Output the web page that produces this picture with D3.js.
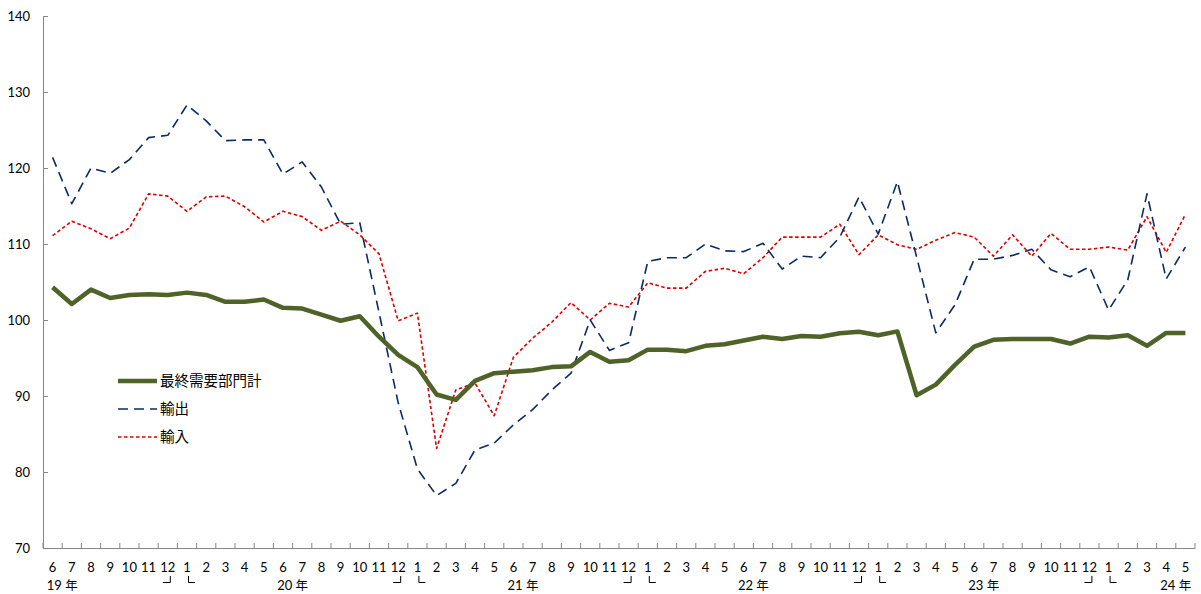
<!DOCTYPE html>
<html><head><meta charset="utf-8">
<script src="https://cdn.jsdelivr.net/npm/d3@7"></script>
<style>body{margin:0;background:#fff}</style>
</head><body>
<svg id="c" width="1201" height="594"></svg>
<script>
const categories = [
 "2019-6","2019-7","2019-8","2019-9","2019-10","2019-11","2019-12",
 "2020-1","2020-2","2020-3","2020-4","2020-5","2020-6","2020-7","2020-8","2020-9","2020-10","2020-11","2020-12",
 "2021-1","2021-2","2021-3","2021-4","2021-5","2021-6","2021-7","2021-8","2021-9","2021-10","2021-11","2021-12",
 "2022-1","2022-2","2022-3","2022-4","2022-5","2022-6","2022-7","2022-8","2022-9","2022-10","2022-11","2022-12",
 "2023-1","2023-2","2023-3","2023-4","2023-5","2023-6","2023-7","2023-8","2023-9","2023-10","2023-11","2023-12",
 "2024-1","2024-2","2024-3","2024-4","2024-5"];
const finalDemand = [104.3,102.1,104.0,102.9,103.3,103.4,103.3,103.6,103.3,102.4,
 102.4,102.7,101.6,101.5,100.7,99.9,100.5,97.8,95.4,93.8,
 90.2,89.5,92.0,93.0,93.2,93.4,93.8,93.9,95.8,94.5,
 94.7,96.1,96.1,95.9,96.6,96.8,97.3,97.8,97.5,97.9,
 97.8,98.25,98.45,98.0,98.5,90.1,91.5,94.1,96.5,97.4,
 97.5,97.5,97.5,96.9,97.8,97.7,98.0,96.6,98.3,98.3];
const exportsIdx = [121.4,115.3,120.0,119.3,121.1,124.0,124.3,128.3,126.2,123.6,
 123.7,123.7,119.2,120.8,117.5,112.6,112.8,101.0,89.1,80.4,
 76.9,78.5,82.9,83.8,86.2,88.2,90.8,93.0,100.0,96.0,
 97.0,107.7,108.2,108.2,110.0,109.1,109.0,110.1,106.7,108.4,
 108.2,110.9,116.2,111.3,118.2,108.3,98.3,102.0,108.0,108.0,
 108.5,109.3,106.6,105.7,107.0,101.3,105.3,116.6,105.4,109.6];
const importsIdx = [111.1,113.0,112.0,110.7,112.1,116.6,116.3,114.3,116.2,116.3,
 114.9,112.9,114.3,113.6,111.8,113.0,111.2,108.7,99.9,100.9,
 83.1,90.8,91.7,87.4,95.1,97.6,99.7,102.3,100.0,102.2,
 101.7,104.9,104.2,104.2,106.4,106.8,106.1,108.2,110.9,110.9,
 110.9,112.6,108.6,111.2,109.9,109.3,110.5,111.5,110.9,108.4,
 111.2,108.4,111.4,109.3,109.3,109.6,109.2,113.6,108.9,113.9];
const yTicks = [70,80,90,100,110,120,130,140];
const seriesNames = ["最終需要部門計","輸出","輸入"];
const yearLabels = ["19","20","21","22","23","24"];

const svg = d3.select("#c");
const L = 43, R = 1195, T = 16, B = 548;
const x = d3.scaleBand().domain(categories).range([L, R]).padding(0);
const y = d3.scaleLinear().domain([70, 140]).range([B, T]);
const cx = c => x(c) + x.bandwidth() / 2;
const axisCol = "#868686";
const numFont = "Lato, 'Noto Sans', sans-serif";
const cjkFont = "'Noto Sans CJK JP', sans-serif";

// Y axis
const ya = svg.append("g").attr("transform", `translate(${L},0)`)
  .call(d3.axisLeft(y).tickValues(yTicks).tickSize(-5).tickPadding(13));
ya.select(".domain").attr("stroke", axisCol);
ya.selectAll(".tick line").attr("stroke", axisCol);
ya.selectAll(".tick text").attr("font-family", numFont).attr("font-size", 13).attr("fill", "#000");

// X axis
const xa = svg.append("g").attr("transform", `translate(0,${B})`)
  .call(d3.axisBottom(x).tickSize(0).tickFormat(() => ""));
xa.select(".domain").attr("stroke", axisCol);
xa.selectAll(".tick").remove();
const bounds = categories.map(c => x(c)).concat([R]);
xa.selectAll("line.bt").data(bounds).join("line").attr("class", "bt")
  .attr("x1", d => d).attr("x2", d => d).attr("y1", 0).attr("y2", -5)
  .attr("stroke", axisCol);
svg.append("g").selectAll("text").data(categories).join("text")
  .attr("x", cx).attr("y", 571.5).attr("text-anchor", "middle")
  .attr("font-family", numFont).attr("font-size", 13).attr("fill", "#000")
  .text(c => c.split("-")[1]);

// year labels
yearLabels.forEach(yr => {
  const full = "20" + yr;
  const cats = categories.filter(c => c.startsWith(full + "-"));
  let a = cats.indexOf(full + "-6"), b;
  if (a >= 0 && a + 1 < cats.length) { b = a + 1; } else { a = cats.length - 2; b = cats.length - 1; }
  const px = (cx(cats[a]) + cx(cats[b])) / 2;
  const t = svg.append("text").attr("x", px).attr("y", 590).attr("text-anchor", "middle").attr("fill", "#000");
  t.append("tspan").attr("font-family", numFont).attr("font-size", 13).text(yr + " ");
  t.append("tspan").attr("font-family", cjkFont).attr("font-size", 12.5).text("年");
});

// year separators
const sep = svg.append("g").attr("stroke", "#000").attr("stroke-width", 1).attr("fill", "none");
categories.forEach((c, i) => {
  const m = c.split("-")[1];
  if (m === "12" && i < categories.length - 1) {
    const p = cx(c);
    sep.append("path").attr("d", `M${p - 5},582.5H${p + 2.5}V576`);
  }
  if (m === "1" && i > 0) {
    const p = cx(c);
    sep.append("path").attr("d", `M${p + 1.5},576V582.5H${p + 8}`);
  }
});

// lines
const line = d3.line().x((d, i) => cx(categories[i])).y(d => y(d));
const styles = [
  {data: finalDemand, color: "#4f6228", w: 4.5, dash: null},
  {data: exportsIdx, color: "#0c2a66", w: 1.6, dash: "10,6"},
  {data: importsIdx, color: "#dd0000", w: 1.6, dash: "3.5,2.5"}
];
const order = [2, 1, 0];
order.forEach(k => {
  const s = styles[k];
  svg.append("path").datum(s.data).attr("d", line).attr("fill", "none")
    .attr("stroke", s.color).attr("stroke-width", s.w).attr("stroke-linejoin", "round")
    .attr("stroke-dasharray", s.dash);
});

// legend
const ly = [381, 409, 437];
seriesNames.forEach((n, k) => {
  const s = styles[k];
  svg.append("line").attr("x1", 118).attr("x2", 157).attr("y1", ly[k]).attr("y2", ly[k])
    .attr("stroke", s.color).attr("stroke-width", s.w).attr("stroke-dasharray", s.dash);
  svg.append("text").attr("x", 160).attr("y", ly[k]).attr("dy", "0.35em")
    .attr("font-family", cjkFont).attr("font-size", 14.5).attr("fill", "#000").text(n);
});
</script>
</body></html>
